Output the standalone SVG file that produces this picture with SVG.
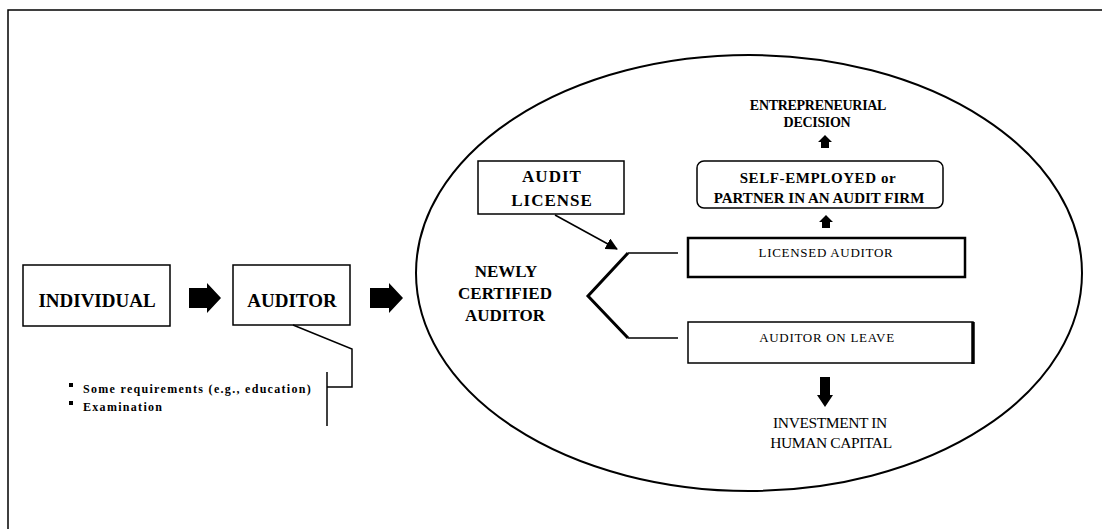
<svg xmlns="http://www.w3.org/2000/svg" width="1102" height="529" viewBox="0 0 1102 529">
<style>
text{font-family:'Liberation Serif','Times New Roman','DejaVu Serif',serif;fill:#000}
.b{font-weight:bold}
.box{fill:#fff;stroke:#000;stroke-width:1.5}
.ln{fill:none;stroke:#000;stroke-width:1.5}
</style>
<defs>
<marker id="tri" markerWidth="12" markerHeight="12" refX="11" refY="6" orient="auto" markerUnits="userSpaceOnUse">
<path d="M0,0 L12,6 L0,12 Z" fill="#000"/>
</marker>
</defs>
<rect width="1102" height="529" fill="#fff"/>
<path d="M8,529 V10 H1102" class="ln" stroke-width="2"/>
<ellipse cx="749" cy="273" rx="333" ry="218" fill="none" stroke="#000" stroke-width="2"/>

<g id="individual">
<rect x="23" y="265" width="147" height="61" class="box"/>
<text x="97" y="307" class="b" font-size="19" text-anchor="middle">INDIVIDUAL</text>
</g>
<g id="auditor">
<rect x="233" y="265" width="117" height="60" class="box"/>
<text x="292" y="307" class="b" font-size="19" text-anchor="middle">AUDITOR</text>
</g>
<g id="requirements">
<rect x="69" y="383" width="4" height="4" fill="#000"/>
<text x="83" y="393" class="b" font-size="12" letter-spacing="1.3">Some requirements (e.g., education)</text>
<rect x="69" y="401" width="4" height="4" fill="#000"/>
<text x="83" y="411" class="b" font-size="12" letter-spacing="1.3">Examination</text>
</g>
<g id="audit-license">
<rect x="478" y="161" width="146" height="53" class="box"/>
<text x="552" y="182" class="b" font-size="17" letter-spacing="1" text-anchor="middle">AUDIT</text>
<text x="552" y="206" class="b" font-size="17" letter-spacing="1" text-anchor="middle">LICENSE</text>
</g>
<g id="newly-certified">
<text x="506" y="277" class="b" font-size="17" text-anchor="middle">NEWLY</text>
<text x="505" y="299" class="b" font-size="17" text-anchor="middle">CERTIFIED</text>
<text x="505" y="321" class="b" font-size="17" text-anchor="middle">AUDITOR</text>
</g>
<g id="entrepreneurial">
<text x="818" y="110" class="b" font-size="14" letter-spacing="-0.3" text-anchor="middle">ENTREPRENEURIAL</text>
<text x="817" y="127" class="b" font-size="14" letter-spacing="-0.3" text-anchor="middle">DECISION</text>
</g>
<g id="self-employed">
<rect x="697" y="161" width="246" height="47" rx="7" class="box"/>
<text x="818" y="183" class="b" font-size="15" letter-spacing="0.6" text-anchor="middle">SELF-EMPLOYED or</text>
<text x="819" y="203" class="b" font-size="15" text-anchor="middle">PARTNER IN AN AUDIT FIRM</text>
</g>
<g id="licensed-auditor">
<rect x="688" y="238" width="277" height="39" fill="#fff" stroke="#000" stroke-width="2.5"/>
<text x="826" y="257" font-size="13" letter-spacing="0.7" text-anchor="middle">LICENSED AUDITOR</text>
</g>
<g id="auditor-on-leave">
<rect x="688" y="322" width="285" height="41" class="box"/>
<line x1="973" y1="322" x2="973" y2="364" stroke="#000" stroke-width="3.5"/>
<text x="827" y="342" font-size="13" letter-spacing="0.7" text-anchor="middle">AUDITOR ON LEAVE</text>
</g>
<g id="investment">
<text x="830" y="428" font-size="15.5" letter-spacing="-0.4" text-anchor="middle">INVESTMENT IN</text>
<text x="831" y="448" font-size="15.5" letter-spacing="-0.4" text-anchor="middle">HUMAN CAPITAL</text>
</g>

<g id="connectors">
<path d="M189,288 H207 V283 L221,298 L207,313 V308 H189 Z" fill="#000"/>
<path d="M370,288 H389 V283 L403,298 L389,313 V308 H370 Z" fill="#000"/>
<path d="M293,325 L352,349 V387 H327" class="ln"/>
<line x1="327" y1="372" x2="327" y2="426" class="ln"/>
<line x1="555" y1="215" x2="617" y2="249" class="ln" marker-end="url(#tri)"/>
<path d="M678,253 H628" class="ln"/>
<path d="M628,253 L588,296 L628,338" fill="none" stroke="#000" stroke-width="3"/>
<path d="M628,338 H678" class="ln"/>
<path d="M825,135 L832,142 H829 V148 H821 V142 H818 Z" fill="#000"/>
<path d="M826,215 L833,222 H830 V228 H822 V222 H819 Z" fill="#000"/>
<path d="M820,377 H830 V395 H833 L825,407 L817,395 H820 Z" fill="#000"/>
</g>
</svg>
